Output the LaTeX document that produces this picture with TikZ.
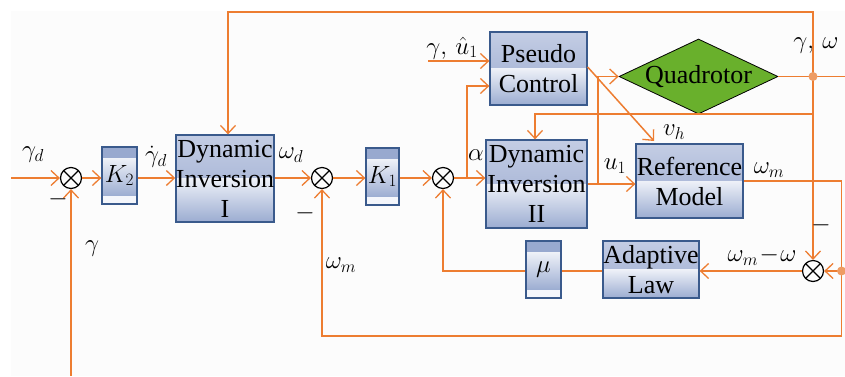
\documentclass[tikz,border=0pt]{standalone}
\usepackage{fontspec}
\setmainfont{Liberation Serif}
\usetikzlibrary{arrows.meta,shapes.geometric,calc}
\definecolor{lnc}{HTML}{ED7D31}
\definecolor{dotc}{HTML}{EE9C64}
\definecolor{boxb}{HTML}{3A5A8C}
\definecolor{bA}{HTML}{C4CDE4}
\definecolor{bB}{HTML}{98A9CF}
\definecolor{bC}{HTML}{EEF1F8}
\definecolor{bD}{HTML}{9BACD1}
\definecolor{qg}{HTML}{69B02C}
\definecolor{bgc}{HTML}{FCFCFC}
\definecolor{kw}{HTML}{F4F6FB}
\newcommand{\bigf}{\fontsize{26}{30}\selectfont}
\newcommand{\lblf}{\fontsize{25}{30}\selectfont}
\tikzset{
  ln/.style={draw=lnc, line width=1.5pt},
  arr/.style={ln, -{Straight Barb[length=8pt,width=15pt,line width=1.3pt]}},
  boxbase/.style={draw=boxb, line width=1.3pt, rectangle, inner sep=0pt, align=center, font=\bigf},
  blk/.style={boxbase, path picture={
    \shade[top color=bA, bottom color=bB] (path picture bounding box.north west) rectangle (path picture bounding box.east);
    \shade[top color=bC, bottom color=bD] (path picture bounding box.west) rectangle (path picture bounding box.south east);}},
  kblk/.style={boxbase, path picture={
    \fill[bB] (path picture bounding box.north west) rectangle ($(path picture bounding box.north east)!0.2!(path picture bounding box.south east)$);
    \shade[top color=bC, bottom color=bD] ($(path picture bounding box.north west)!0.2!(path picture bounding box.south west)$) rectangle ($(path picture bounding box.north east)!0.86!(path picture bounding box.south east)$);
    \fill[kw] ($(path picture bounding box.north west)!0.86!(path picture bounding box.south west)$) rectangle (path picture bounding box.south east);}},
  sumn/.style={circle, draw=black, line width=1.2pt, minimum size=21pt, inner sep=0pt,
    path picture={\draw[black, line width=1.1pt] (path picture bounding box.north west) -- (path picture bounding box.south east) (path picture bounding box.north east) -- (path picture bounding box.south west);}},
  lbl/.style={inner sep=0pt, font=\lblf},
  quad/.style={diamond, draw=black, line width=0.8pt, fill=qg, aspect=2.12, minimum width=159pt, minimum height=75pt, inner sep=0pt, font=\bigf}
}
\begin{document}
\begin{tikzpicture}[x=1pt,y=-1pt]
\useasboundingbox (0,0) rectangle (845,376);
\fill[white] (0,0) rectangle (845,376);
\fill[bgc] (11,11) rectangle (845,376);

% blocks
\node[sumn] (s1) at (71,178) {};
\node[kblk, minimum width=35pt, minimum height=57pt] (K2) at (119.5,175.5) {$K_2$};
\node[blk, minimum width=98pt, minimum height=87pt] (DI1) at (225,178.5) {Dynamic\\Inversion\\I};
\node[sumn] (s2) at (322,178) {};
\node[kblk, minimum width=33pt, minimum height=57pt] (K1) at (382.5,176.5) {$K_1$};
\node[sumn] (s3) at (443,178) {};
\node[blk, minimum width=101pt, minimum height=88pt] (DI2) at (536.5,184) {Dynamic\\Inversion\\II};
\node[blk, minimum width=97pt, minimum height=73pt] (PC) at (538.5,68.5) {Pseudo\\Control};
\node[quad] (Q) at (698.5,76.5) {Quadrotor};
\node[blk, minimum width=107pt, minimum height=74pt] (RM) at (689.5,181) {Reference\\Model};
\node[blk, minimum width=96pt, minimum height=57pt] (AL) at (651,269.5) {Adaptive\\Law};
\node[kblk, minimum width=35pt, minimum height=57pt] (mu) at (543.5,269.5) {$\mu$};
\node[sumn] (s4) at (813,271) {};

% coordinates
\coordinate (inL) at (11,178);
\coordinate (gB) at (71,376);
\coordinate (aB) at (467,178);
\coordinate (gu) at (428,61);
\coordinate (vhE) at (654,141);
\coordinate (uB) at (598,184);
\coordinate (yw) at (813,76.5);
\coordinate (outR) at (845,76.5);
\coordinate (tR) at (813,12);
\coordinate (j2) at (813,114);
\coordinate (bR) at (841.5,336);
\coordinate (dot2) at (841.5,271);

% connectors
\draw[arr] (inL) -- (s1.west);
\draw[arr] (gB) -- (s1.south);
\draw[arr] (s1.east) -- (s1.east -| K2.west);
\draw[arr] (s1.east -| K2.east) -- (s1.east -| DI1.west);
\draw[arr] (s1.east -| DI1.east) -- (s2.west);
\draw[arr] (s2.east) -- (s2.east -| K1.west);
\draw[arr] (s2.east -| K1.east) -- (s3.west);
\draw[arr] (s3.east) -- (s3.east -| DI2.west);
\draw[arr] (aB) |- ([yshift=-17.5pt]PC.west);
\draw[arr] (gu) -- (gu -| PC.west);
\draw[arr] ([yshift=1.5pt]PC.east) -- (vhE);
\draw[arr] (DI2.east) -- (DI2.east -| RM.west);
\draw[arr] (uB) |- (Q.west);
\draw[ln] (Q.east) -- (outR);
\draw[arr] (yw) -- (tR) -| ([xshift=3pt]DI1.north);
\draw[arr] (yw) -- (s4.north);
\draw[arr] (j2) -| ([xshift=-1.5pt]DI2.north);
\draw[arr] (RM.east) -- (RM.east -| bR) -- (bR) -| (s2.south);
\draw[arr] (dot2) -- (s4.east);
\draw[arr] (s4.west) -- (s4.west -| AL.east);
\draw[ln] (s4.west -| AL.west) -- (s4.west -| mu.east);
\draw[arr] (s4.west -| mu.west) -| (s3.south);
\fill[dotc] (yw) circle (4.5pt);
\fill[dotc] (dot2) circle (4.5pt);

% labels
\node[lbl] (lgd) at (33,155) {$\gamma_d$};
\node[lbl] (lm1) at (58,199) {$-$};
\node[lbl] (lg) at (92,249) {$\gamma$};
\node[lbl] (lgdd) at (156,157) {$\dot{\gamma}_d$};
\node[lbl] (lwd) at (291,155) {$\omega_d$};
\node[lbl] (lm2) at (305,213) {$-$};
\node[lbl] (lwm1) at (341,265) {$\omega_m$};
\node[lbl] (lgu) at (452,48) {$\gamma,\,\hat{u}_1$};
\node[lbl] (la) at (476,155) {$\alpha$};
\node[lbl] (lvh) at (674,132) {$v_h$};
\node[lbl] (lu1) at (615,166) {$u_1$};
\node[lbl] (lwm2) at (769,170) {$\omega_m$};
\node[lbl] (lgw) at (816,46) {$\gamma,\,\omega$};
\node[lbl] (lm3) at (821,225) {$-$};
\node[lbl] (lwmw) at (762,256) {$\omega_m\!-\!\omega$};
\end{tikzpicture}
\end{document}
